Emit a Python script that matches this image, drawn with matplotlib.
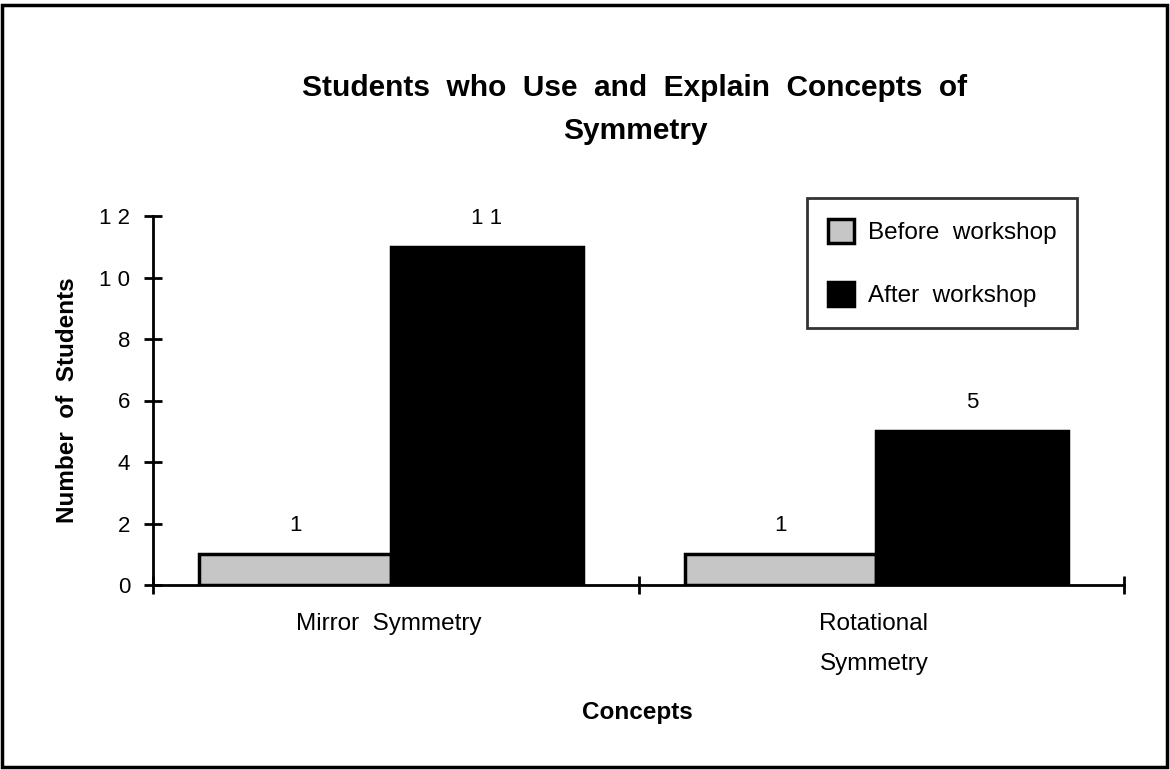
import matplotlib
matplotlib.use("Agg")
import matplotlib.pyplot as plt
from matplotlib.patches import Rectangle
import numpy as np

categories = ["Mirror  Symmetry", "Rotational\nSymmetry"]
series_names = ["Before  workshop", "After  workshop"]
before = [1, 1]
after = [11, 5]
yticks = [0, 2, 4, 6, 8, 10, 12]

plt.rcParams['font.family'] = ['Liberation Sans', 'DejaVu Sans']

fig = plt.figure(figsize=(11.7, 7.7), dpi=100)
ax = fig.add_axes([153/1170, 185/770, 971/1170, 369/770])

x = np.arange(len(categories)) + 0.49
w = 0.395
b1 = ax.bar(x - w/2, before, width=w, color='#c6c6c6', edgecolor='black', linewidth=2.5, label=series_names[0])
b2 = ax.bar(x + w/2, after, width=w, color='black', edgecolor='black', linewidth=2.5, label=series_names[1])

for rects, vals in ((b1, before), (b2, after)):
    for r, v in zip(rects, vals):
        ax.annotate(" ".join(str(v)), (r.get_x() + r.get_width()/2, v), xytext=(0, 13),
                    textcoords='offset points', ha='center', va='bottom', fontsize=16)

ax.set_xlim(0, len(categories))
ax.set_ylim(0, 12)
ax.set_yticks(yticks)
ax.set_yticklabels([" ".join(str(t)) for t in yticks], fontsize=16)
ax.set_xticks(np.arange(len(categories) + 1))
ax.set_xticklabels([])
ax.tick_params(axis='both', direction='inout', length=13, width=2, pad=10)
for xi, lab in zip(x, categories):
    ax.text(xi - 0.005, -0.9, lab, ha='center', va='top', fontsize=17.5, linespacing=2.05)

for s in ['top', 'right']:
    ax.spines[s].set_visible(False)
for s in ['left', 'bottom']:
    ax.spines[s].set_linewidth(2)

ax.set_ylabel("Number  of  Students", fontsize=17.5, fontweight='bold')
ax.yaxis.set_label_coords(-0.076, 0.5)
fig.text(637/1170, 1 - 712/770, "Concepts", ha='center', va='center', fontsize=17.5, fontweight='bold')
fig.text(635/1170, 1 - 88/770, "Students  who  Use  and  Explain  Concepts  of", ha='center', va='center',
         fontsize=21.5, fontweight='bold')
fig.text(635/1170, 1 - 131/770, "Symmetry", ha='center', va='center', fontsize=21.5, fontweight='bold')

leg = fig.legend(handles=[b1, b2], labels=series_names, loc='upper left',
                 bbox_to_anchor=(807/1170, 1 - 198/770), frameon=True, fancybox=False,
                 fontsize=17.5, handlelength=1.1, handleheight=1.15, labelspacing=1.55,
                 borderpad=0.85, handletextpad=0.55, borderaxespad=0)
leg.get_frame().set_edgecolor('black')
leg.get_frame().set_linewidth(2)

fig.patches.append(Rectangle((2/1170, 3/770), 1165/1170, 762/770, transform=fig.transFigure,
                             fill=False, edgecolor='black', linewidth=2.5))

fig.savefig("out.png", dpi=100)
